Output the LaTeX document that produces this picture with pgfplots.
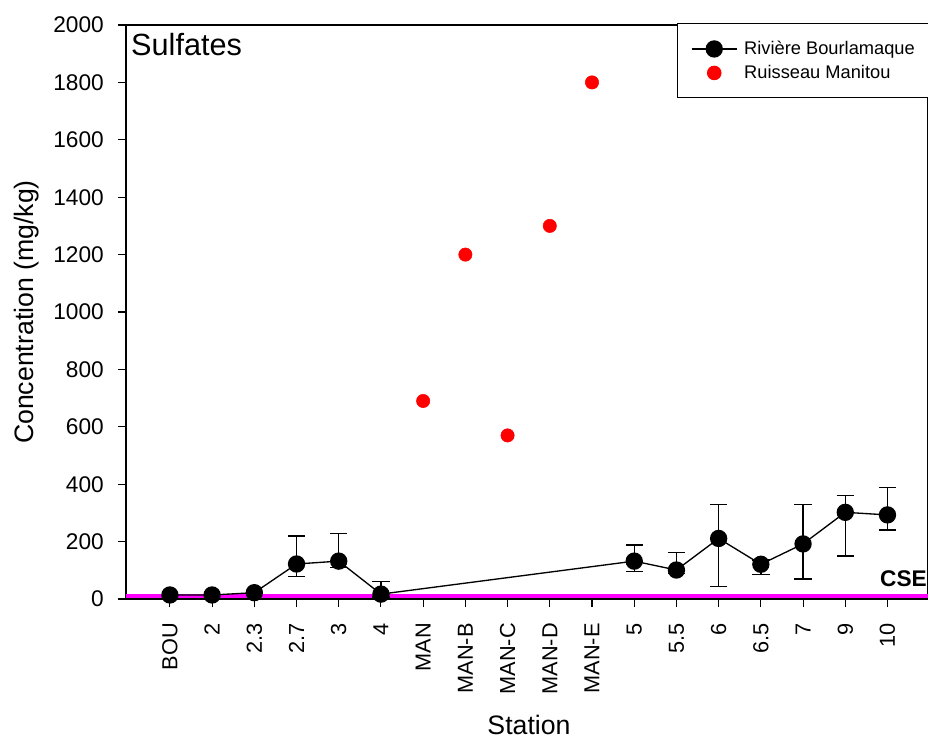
\documentclass[border=0pt]{standalone}
\usepackage{fontspec}
\setmainfont{Liberation Sans}
\usepackage{pgfplots}
\usepackage{pgfplotstable}
\pgfplotsset{compat=1.18}
\definecolor{cse}{rgb}{1,0,1}
\pgfplotsset{
  bouleg/.style={legend image code/.code={\draw[mark repeat=2, mark phase=2, ##1] plot coordinates {(0pt,0pt) (17pt,0pt) (34pt,0pt)};}},
  manleg/.style={legend image code/.code={\draw[##1] plot coordinates {(17pt,0pt)};}},
}
\pgfplotstableread{
x y
0 14
1 14
2 22
3 122
4 132
5 17
11 132
12 101
13 211
14 121
15 192
16 302
17 293
}\bou
\pgfplotstableread{
x y ep em
3 122 97 44
4 132 97 23
5 17 43 10
11 132 56 37
12 101 60 11
13 211 119 168
14 121 15 36
15 192 138 122
16 302 58 152
17 293 96 53
}\bouerr
\pgfplotstableread{
x y
6 690
7 1200
8 570
9 1300
10 1800
}\man
\begin{document}
\begin{tikzpicture}
\begin{axis}[
  at={(0,0)}, anchor=south west,
  scale only axis, width=601.5pt, height=430.5pt,
  xmin=-1.04, xmax=17.96, ymin=0, ymax=2000,
  xtick={0,...,17},
  xticklabels={BOU,2,2.3,2.7,3,4,MAN,MAN-B,MAN-C,MAN-D,MAN-E,5,5.5,6,6.5,7,9,10},
  ytick={0,200,...,2000},
  xtick pos=bottom, ytick pos=left,
  tick align=outside, major tick length=6pt,
  every tick/.style={black, line width=0.8pt},
  axis line style={black, line width=1pt},
  /pgf/number format/assume math mode=true,
  /pgf/number format/1000 sep={},
  yticklabel style={inner sep=0pt, font=\fontsize{17}{20}\selectfont},
  xticklabel style={rotate=90, anchor=east, inner sep=0pt, font=\fontsize{16.3}{20}\selectfont},
  xticklabel shift=12pt,
  yticklabel shift=10.5pt,
  xlabel={Station}, ylabel={Concentration (mg/kg)},
  every axis x label/.style={at={(axis description cs:0.5025,-0.2195)}, anchor=center, inner sep=0pt, font=\fontsize{20}{24}\selectfont},
  every axis y label/.style={at={(axis description cs:-0.1234,0.5)}, anchor=center, rotate=90, font=\fontsize{20}{24}\selectfont},
  legend style={at={(axis description cs:0.687,1.003)}, anchor=north west,
    draw=black, line width=0.9pt, font=\fontsize{13.7}{16}\selectfont,
    inner xsep=10pt, inner ysep=11pt, row sep=2.5pt, /tikz/column sep=3pt},
  legend cell align=left,
  clip=false,
]
\addplot[cse, line width=3pt, forget plot] coordinates {(-1.04,11) (17.96,11)};
\addplot[draw=none, mark=none, forget plot,
  error bars/.cd, y dir=both, y explicit,
  error bar style={black, line width=1pt},
  error mark options={black, rotate=90, mark size=6.5pt, line width=1pt}]
  table[x=x, y=y, y error plus=ep, y error minus=em] {\bouerr};
\addplot[black, line width=1pt, mark=*, mark size=6pt, mark options={fill=black}, bouleg]
  table[x=x, y=y] {\bou};
\addlegendentry{Rivière Bourlamaque}
\addplot[only marks, mark=*, mark size=5pt, color=red, mark options={fill=red, draw=red}, manleg]
  table[x=x, y=y] {\man};
\addlegendentry{Ruisseau Manitou}
\node[anchor=base west, inner sep=0pt, font=\fontsize{23}{27}\selectfont] at (axis description cs:0.0062,0.9477) {Sulfates};
\node[anchor=base west, inner sep=0pt, font=\fontsize{17}{19}\selectfont\bfseries] at (axis description cs:0.940,0.0226) {CSE};
\end{axis}
\pgfresetboundingbox
\useasboundingbox (-94.5pt,-105.75pt) rectangle (601.5pt,449.25pt);
\end{tikzpicture}
\end{document}
